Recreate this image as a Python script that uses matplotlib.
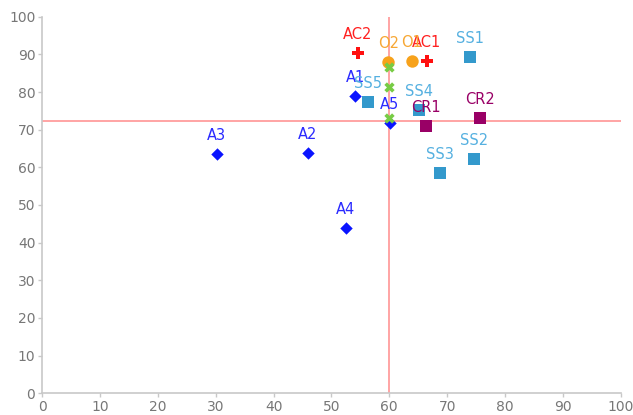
import matplotlib
matplotlib.use("Agg")
import matplotlib.pyplot as plt

# Data
a_labels = ["A1", "A2", "A3", "A4", "A5"]
a_x = [54.1, 45.9, 30.2, 52.5, 60.1]
a_y = [78.9, 63.8, 63.6, 43.9, 71.8]

ac_labels = ["AC1", "AC2"]
ac_x = [66.5, 54.6]
ac_y = [88.2, 90.4]

o_labels = ["O1", "O2"]
o_x = [63.9, 59.8]
o_y = [88.2, 88.0]

ss_labels = ["SS1", "SS2", "SS3", "SS4", "SS5"]
ss_x = [73.9, 74.6, 68.8, 65.1, 56.3]
ss_y = [89.3, 62.2, 58.5, 75.2, 77.3]

cr_labels = ["CR1", "CR2"]
cr_x = [66.3, 75.7]
cr_y = [71.0, 73.1]

g_x = [59.9, 59.9, 59.9]
g_y = [86.6, 81.3, 73.1]

ref_x = 60.0
ref_y = 72.4

x_ticks = list(range(0, 101, 10))
y_ticks = list(range(0, 101, 10))

fig = plt.figure(figsize=(6.33, 4.15), dpi=100)
ax = fig.add_axes([0.0668, 0.0523, 0.9137, 0.9075])

ax.axvline(ref_x, color="#ff8c8c", lw=1.1, zorder=1)
ax.axhline(ref_y, color="#ff8c8c", lw=1.1, zorder=1)

def series(xs, ys, labels, marker, color, tcolor, ms, mew=0):
    ax.scatter(xs, ys, marker=marker, s=ms, color=color, linewidths=mew, zorder=3)
    if labels:
        for x, y, l in zip(xs, ys, labels):
            ax.annotate(l, (x, y), xytext=(0, 8), textcoords="offset points",
                        ha="center", va="bottom", color=tcolor, fontsize=10.5, zorder=4)

series(a_x, a_y, a_labels, "D", "#0a14ff", "#2a2aff", 40)
series(ac_x, ac_y, ac_labels, "P", "#ff1010", "#ff2020", 75)
series(o_x, o_y, o_labels, "o", "#f7a21b", "#f7a733", 80)
series(ss_x, ss_y, ss_labels, "s", "#3399cc", "#55b0e0", 75)
series(cr_x, cr_y, cr_labels, "s", "#990066", "#990066", 75)
ax.scatter(g_x, g_y, marker="X", s=55, color="#77cc44", linewidths=0, zorder=5)

ax.set_xlim(0, 100)
ax.set_ylim(0, 100)
ax.set_xticks(x_ticks)
ax.set_yticks(y_ticks)
for s in ["top", "right"]:
    ax.spines[s].set_visible(False)
for s in ["left", "bottom"]:
    ax.spines[s].set_color("#c8c8c8")
    ax.spines[s].set_linewidth(1.2)
ax.tick_params(colors="#c8c8c8", labelcolor="#777777", labelsize=10, length=3, width=1, pad=2)

fig.savefig("out.png", dpi=100)
